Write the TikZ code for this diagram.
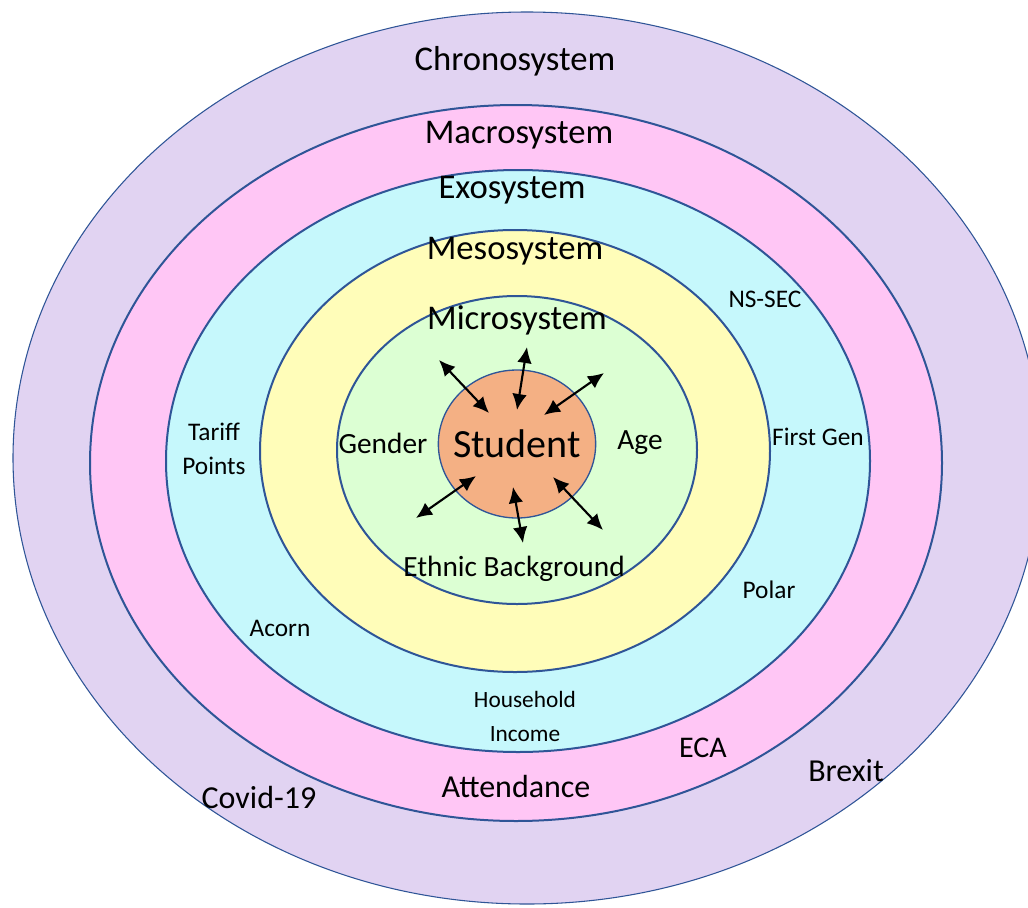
\documentclass[tikz,border=0pt]{standalone}
\usepackage{fontspec}
\setmainfont{Carlito}
\usetikzlibrary{arrows.meta,shapes.geometric}
\definecolor{ringline}{HTML}{2F5597}
\definecolor{chronofill}{HTML}{E1D3F2}
\definecolor{macrofill}{HTML}{FFC6F5}
\definecolor{exofill}{HTML}{C6F8FC}
\definecolor{mesofill}{HTML}{FFFDB9}
\definecolor{microfill}{HTML}{DCFFD3}
\definecolor{studentfill}{HTML}{F4B084}
\tikzset{
  ring/.style={draw=ringline, line width=1.5pt},
  sysname/.style={inner sep=0pt, font=\fontsize{26}{30}\selectfont},
  factor/.style 2 args={inner sep=0pt, font=\fontsize{#1}{#2}\selectfont, align=center},
  link/.style={<->, line width=1.6pt}
}

\begin{document}
\begin{tikzpicture}[x=0.75pt,y=0.75pt,>={Latex[length=12pt,width=11pt]}]
  \useasboundingbox (0,0) rectangle (1028,-907);
  \clip (0,0) rectangle (1028,-907);
  \fill[white] (0,0) rectangle (1028,-907);
  % the nested systems
  \filldraw[fill=chronofill, draw=ringline, line width=0.8pt] (527,-458) ellipse (514 and 446);
  \filldraw[ring, fill=macrofill] (516,-463) ellipse (426 and 358);
  \filldraw[ring, fill=exofill] (518,-461) ellipse (352 and 291);
  \filldraw[ring, fill=mesofill] (515,-451) ellipse (255 and 221);
  \filldraw[ring, fill=microfill] (517,-450) ellipse (180 and 154);
  \node[sysname] (chrono) at (515,-61) {Chronosystem};
  \node[sysname] (macro) at (519,-135) {Macrosystem};
  \node[sysname] (exo) at (512,-190) {Exosystem};
  \node[sysname] (meso) at (515,-251) {Mesosystem};
  \node[sysname] (micro) at (517,-320) {Microsystem};
  % the student in the middle
  \node[ellipse, fill=studentfill, draw=ringline, line width=1pt,
        minimum width=118pt, minimum height=111pt, inner xsep=-8pt, inner ysep=0pt,
        font=\fontsize{30}{34}\selectfont] (student) at (517,-444) {Student};
  \coordinate (ulout) at (439,-360); \coordinate (ulin) at (489,-413);
  \coordinate (upout) at (527,-347); \coordinate (upin) at (517,-410);
  \coordinate (urout) at (604,-373); \coordinate (urin) at (544,-415);
  \coordinate (llout) at (416,-518); \coordinate (llin) at (476,-476);
  \coordinate (dnout) at (523,-543); \coordinate (dnin) at (513,-487);
  \coordinate (lrout) at (603,-530); \coordinate (lrin) at (553,-477);
  \draw[link] (ulout) -- (ulin);
  \draw[link] (upout) -- (upin);
  \draw[link] (urout) -- (urin);
  \draw[link] (llout) -- (llin);
  \draw[link] (dnout) -- (dnin);
  \draw[link] (lrout) -- (lrin);
  % factors
  \node[factor={22}{26}] (gender) at (383,-443) {Gender};
  \node[factor={22}{26}] (age) at (640,-443) {Age};
  \node[factor={22}{26}] (ethnic) at (514,-569) {Ethnic Background};
  \node[factor={19}{23}] (nssec) at (765,-299) {NS-SEC};
  \node[factor={19}{23}] (firstgen) at (818,-437) {First Gen};
  \node[factor={19}{23}] (polar) at (769,-590) {Polar};
  \node[factor={19}{25.5}] (tariff) at (214,-449) {Tariff\\Points};
  \node[factor={19}{23}] (acorn) at (280,-628) {Acorn};
  \node[factor={17.5}{25.5}] (income) at (525,-716) {Household\\Income};
  \node[factor={22.5}{27}] (eca) at (703,-748) {ECA};
  \node[factor={24}{29}] (attend) at (516,-786) {Attendance};
  \node[factor={24}{29}] (brexit) at (846,-771) {Brexit};
  \node[factor={24}{29}] (covid) at (259,-797) {Covid-19};
\end{tikzpicture}
\end{document}
